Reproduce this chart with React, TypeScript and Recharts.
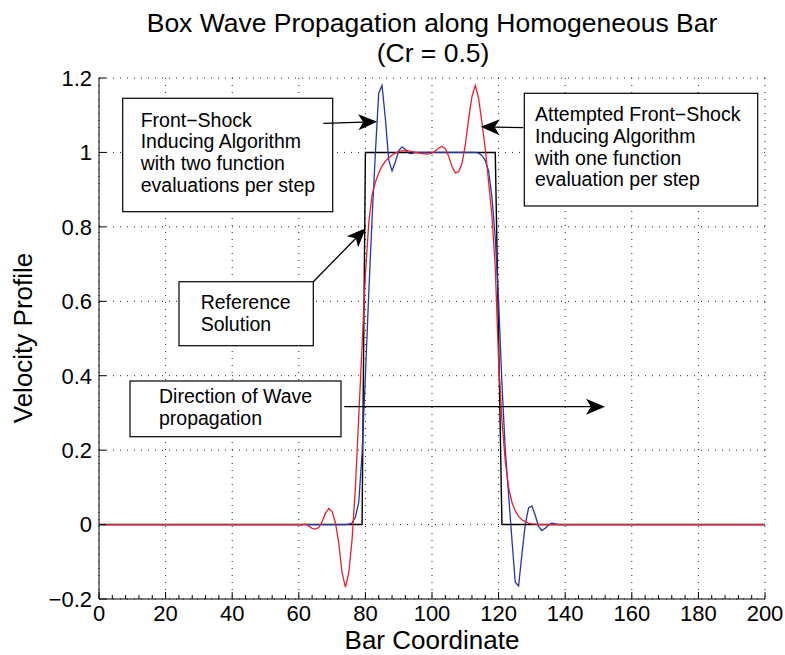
import React from "react"
import { LineChart, Line, XAxis, YAxis, CartesianGrid } from "recharts"

// reference solution (black box)
const refX = [0, 79, 80, 119, 121, 200]
const refV = [0, 0, 1, 1, 0, 0]

// front-shock algorithm, two function evaluations per step (blue)
const twoEvalX = [0, 74, 75, 76, 77, 78, 79, 80, 81, 82, 83, 84, 85, 86, 87, 88, 89, 90, 91, 92, 93, 94, 95, 113, 114, 115, 116, 117, 118, 119, 120, 121, 122, 123, 124, 125, 126, 127, 128, 129, 130, 131, 132, 133, 134, 135, 136, 137, 138, 200]
const twoEvalV = [0, 0, 0.001, 0.004, 0.02, 0.06, 0.19, 0.4, 0.62, 0.82, 1.0, 1.16, 1.18, 1.09, 0.98, 0.95, 0.975, 1.005, 1.015, 1.008, 0.998, 0.997, 1.0, 1.0, 0.998, 0.992, 0.978, 0.95, 0.88, 0.77, 0.6, 0.38, 0.2, 0.08, -0.04, -0.155, -0.165, -0.08, 0.0, 0.045, 0.05, 0.025, -0.005, -0.016, -0.01, -0.001, 0.004, 0.002, 0, 0]

// attempted algorithm, one function evaluation per step (red)
const oneEvalX = [0, 61, 62, 63, 64, 65, 66, 67, 68, 69, 70, 71, 72, 73, 74, 75, 76, 77, 78, 79, 80, 81, 82, 83, 84, 85, 86, 87, 88, 89, 90, 91, 92, 93, 94, 95, 96, 97, 98, 99, 100, 101, 102, 103, 104, 105, 106, 107, 108, 109, 110, 111, 112, 113, 114, 115, 116, 117, 118, 119, 120, 121, 122, 123, 124, 125, 126, 127, 128, 129, 130, 131, 132, 200]
const oneEvalV = [0, 0, 0.001, -0.004, -0.01, -0.012, -0.008, 0.008, 0.03, 0.043, 0.035, 0.005, -0.05, -0.13, -0.168, -0.13, -0.04, 0.1, 0.29, 0.48, 0.67, 0.81, 0.885, 0.92, 0.945, 0.963, 0.976, 0.986, 0.993, 0.998, 1.002, 1.004, 1.005, 1.004, 1.002, 1.0, 0.998, 0.997, 0.996, 0.996, 0.998, 1.004, 1.012, 1.016, 1.01, 0.99, 0.962, 0.945, 0.948, 0.97, 1.02, 1.09, 1.15, 1.18, 1.145, 1.08, 1.01, 0.92, 0.83, 0.69, 0.44, 0.28, 0.17, 0.1, 0.06, 0.037, 0.022, 0.013, 0.008, 0.004, 0.002, 0.001, 0, 0]

const xTicks = [0, 20, 40, 60, 80, 100, 120, 140, 160, 180, 200]
const yTicks = [-0.2, 0, 0.2, 0.4, 0.6, 0.8, 1, 1.2]

const xAllTicks = xTicks.flatMap(t => (t < 200 ? [t, t + 4, t + 8, t + 12, t + 16] : [t]))

const toPoints = (xs: number[], vs: number[]) => xs.map((x, i) => ({ x, v: vs[i] }))

const FONT = "'Liberation Sans', Arial, Helvetica, sans-serif"

const XTick = (props: any) => {
  const { x, y, payload } = props
  const major = xTicks.includes(payload.value)
  return (
    <g>
      <line x1={x} x2={x} y1={y} y2={y - (major ? 7 : 4)} stroke="#000" strokeWidth={1} />
      {major && (
        <text x={x} y={y + 22} textAnchor="middle" fontSize={22} fontFamily={FONT} fill="#000">
          {payload.value}
        </text>
      )}
    </g>
  )
}

const YTick = (props: any) => {
  const { x, y, payload } = props
  const label = String(payload.value).replace("-", "\u2212")
  return (
    <g>
      <line x1={x} x2={x + 7} y1={y} y2={y} stroke="#000" strokeWidth={1} />
      <text x={x - 7} y={y} dy="0.36em" textAnchor="end" fontSize={22} fontFamily={FONT} fill="#000">
        {label}
      </text>
    </g>
  )
}

function Arrow({ x1, y1, x2, y2 }: { x1: number; y1: number; x2: number; y2: number }) {
  const dx = x2 - x1
  const dy = y2 - y1
  const L = Math.hypot(dx, dy)
  const ux = dx / L
  const uy = dy / L
  const px = -uy
  const py = ux
  const len = 19
  const half = 8
  const back = 5
  const bx = x2 - ux * len
  const by = y2 - uy * len
  const cx = x2 - ux * (len - back)
  const cy = y2 - uy * (len - back)
  const pts = [
    [x2, y2],
    [bx + px * half, by + py * half],
    [cx, cy],
    [bx - px * half, by - py * half]
  ]
  return (
    <g>
      <line x1={x1} y1={y1} x2={cx} y2={cy} stroke="#000" strokeWidth={1.3} />
      <polygon points={pts.map(p => p.join(",")).join(" ")} fill="#000" />
    </g>
  )
}

function Note({ x, y, w, h, lines, tx, ty, lh }: any) {
  return (
    <g>
      <rect x={x} y={y} width={w} height={h} fill="#fff" stroke="#000" strokeWidth={1.2} />
      {lines.map((s: string, i: number) => (
        <text key={i} x={tx} y={ty + i * lh} fontSize={19.5} fontFamily={FONT} fill="#000">
          {s}
        </text>
      ))}
    </g>
  )
}

export default function App() {
  return (
    <div style={{ position: "relative", width: 785, height: 655, background: "#fff" }}>
      <style>{`body{margin:0}`}</style>

      <LineChart width={785} height={655} margin={{ top: 78, right: 20, left: 0, bottom: 0 }}>
        <CartesianGrid
          stroke="#222"
          strokeDasharray="1 6"
          verticalValues={xTicks}
          horizontalValues={yTicks}
        />
        <XAxis
          type="number"
          dataKey="x"
          domain={[0, 200]}
          ticks={xAllTicks}
          interval={0}
          allowDataOverflow
          height={56}
          tickSize={0}
          tickMargin={0}
          tickLine={false}
          axisLine={{ stroke: "#000", strokeWidth: 1 }}
          tick={<XTick />}
        />
        <YAxis
          type="number"
          dataKey="v"
          domain={[-0.2, 1.2]}
          ticks={yTicks}
          interval={0}
          allowDataOverflow
          width={99}
          tickSize={0}
          tickMargin={0}
          tickLine={false}
          axisLine={{ stroke: "#000", strokeWidth: 1 }}
          tick={<YTick />}
        />
        <Line
          data={toPoints(refX, refV)}
          dataKey="v"
          type="linear"
          stroke="#000"
          strokeWidth={1.4}
          dot={false}
          isAnimationActive={false}
        />
        <Line
          data={toPoints(twoEvalX, twoEvalV)}
          dataKey="v"
          type="linear"
          stroke="#2536a8"
          strokeWidth={1.3}
          dot={false}
          isAnimationActive={false}
        />
        <Line
          data={toPoints(oneEvalX, oneEvalV)}
          dataKey="v"
          type="linear"
          stroke="#e8202c"
          strokeWidth={1.3}
          dot={false}
          isAnimationActive={false}
        />
      </LineChart>

      <svg
        width={785}
        height={655}
        style={{ position: "absolute", left: 0, top: 0, pointerEvents: "none" }}
      >
        <text x={432} y={31.7} textAnchor="middle" fontSize={26.5} fontFamily={FONT} fill="#000">
          Box Wave Propagation along Homogeneous Bar
        </text>
        <text x={433} y={61.7} textAnchor="middle" fontSize={26.5} fontFamily={FONT} fill="#000">
          (Cr = 0.5)
        </text>
        <text x={432} y={649} textAnchor="middle" fontSize={26} fontFamily={FONT} fill="#000">
          Bar Coordinate
        </text>
        <text
          x={0}
          y={0}
          transform="translate(32,338) rotate(-90)"
          textAnchor="middle"
          fontSize={26}
          fontFamily={FONT}
          fill="#000"
        >
          Velocity Profile
        </text>

        <Note
          x={122.7}
          y={98.3}
          w={210}
          h={113.4}
          tx={140.7}
          ty={126.7}
          lh={21.7}
          lines={["Front\u2212Shock", "Inducing Algorithm", "with two function", "evaluations per step"]}
        />
        <Arrow x1={323.3} y1={123.3} x2={377.3} y2={121.7} />

        <Note
          x={524.3}
          y={93.3}
          w={233.4}
          h={112.7}
          tx={535}
          ty={120.7}
          lh={21.9}
          lines={["Attempted Front\u2212Shock", "Inducing Algorithm", "with one function", "evaluation per step"]}
        />
        <Arrow x1={523.3} y1={127.7} x2={480.7} y2={126.7} />

        <Note
          x={179}
          y={281.7}
          w={134.3}
          h={64}
          tx={200.7}
          ty={309.3}
          lh={21.4}
          lines={["Reference", "Solution"]}
        />
        <Arrow x1={313.3} y1={281.7} x2={365.7} y2={228.3} />

        <Note
          x={130}
          y={381}
          w={211}
          h={55.7}
          tx={159}
          ty={403.3}
          lh={21.7}
          lines={["Direction of Wave", "propagation"]}
        />
        <Arrow x1={344.3} y1={406.7} x2={605} y2={406.7} />
      </svg>
    </div>
  )
}
